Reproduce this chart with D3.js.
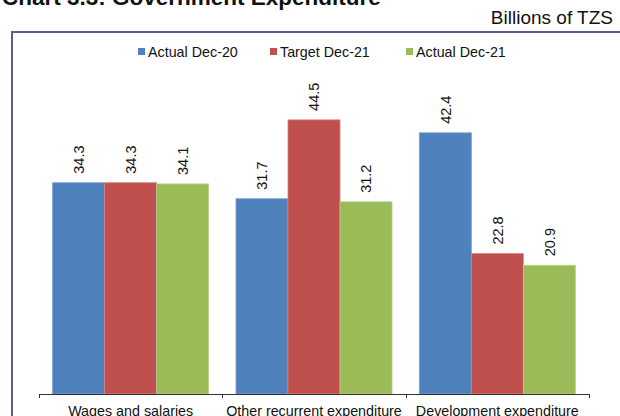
<!DOCTYPE html>
<html>
<head>
<meta charset="utf-8">
<script src="https://cdn.jsdelivr.net/npm/d3@7"></script>
<style>
  html, body { margin: 0; padding: 0; background: #fff; }
  svg { display: block; font-family: "Liberation Sans", Arial, sans-serif; }
</style>
</head>
<body>
<svg id="chart" width="620" height="416"></svg>
<script>
// Government expenditure, billions of TZS
const categories = ["Wages and salaries", "Other recurrent expenditure", "Development expenditure"];
const series = ["Actual Dec-20", "Target Dec-21", "Actual Dec-21"];
const actualDec20 = [34.3, 31.7, 42.4];
const targetDec21 = [34.3, 44.5, 22.8];
const actualDec21 = [34.1, 31.2, 20.9];
const colors = ["#4f81bd", "#c0504d", "#9bbb59"];
const strokes = ["#7ba0d0", "#d98482", "#b6d08a"];

const values = [actualDec20, targetDec21, actualDec21];

const svg = d3.select("#chart");

// Title (sits partly above the visible area)
svg.append("text")
  .attr("x", 2).attr("y", 5)
  .attr("font-size", 22.5).attr("font-weight", "bold").attr("fill", "#111")
  .text("Chart 3.3: Government Expenditure");

svg.append("text")
  .attr("x", 613).attr("y", 24)
  .attr("text-anchor", "end")
  .attr("font-size", 19).attr("fill", "#111")
  .text("Billions of TZS");

// Chart frame
svg.append("rect")
  .attr("x", 12).attr("y", 32)
  .attr("width", 640).attr("height", 420)
  .attr("fill", "none").attr("stroke", "#5c5f8c").attr("stroke-width", 2);

const baseY = 394;
const x0 = d3.scaleBand().domain(categories).range([39, 589]).paddingInner(0).paddingOuter(0);
const x1 = d3.scaleBand().domain(series).range([0, x0.bandwidth()]).paddingInner(0).paddingOuter(0.2625);
const y = d3.scaleLinear().domain([0, 50]).range([baseY, 86]);

// Bars
const groups = svg.append("g").selectAll("g")
  .data(categories)
  .join("g")
  .attr("transform", d => `translate(${x0(d)},0)`);

groups.selectAll("rect")
  .data((c, ci) => series.map((s, si) => ({ s, si, v: values[si][ci] })))
  .join("rect")
  .attr("x", d => x1(d.s))
  .attr("y", d => y(d.v))
  .attr("width", x1.bandwidth())
  .attr("height", d => y(0) - y(d.v))
  .attr("fill", d => colors[d.si])
  .attr("stroke", d => strokes[d.si])
  .attr("stroke-width", 0.8);

// Value labels, rotated
groups.selectAll("text.val")
  .data((c, ci) => series.map((s, si) => ({ s, si, v: values[si][ci] })))
  .join("text")
  .attr("class", "val")
  .attr("transform", d => `translate(${x1(d.s) + x1.bandwidth() / 2},${y(d.v) - 9}) rotate(-90)`)
  .attr("dy", "0.36em")
  .attr("font-size", 14.5)
  .attr("fill", "#111")
  .text(d => d.v.toFixed(1));

// Category axis
const axis = svg.append("g").attr("stroke", "#333").attr("stroke-width", 1);
const x0r = x0.range();
axis.append("line")
  .attr("x1", x0r[0]).attr("x2", x0r[1])
  .attr("y1", baseY + 0.5).attr("y2", baseY + 0.5);
const tickXs = categories.map(c => x0(c)).concat([x0(categories[categories.length - 1]) + x0.bandwidth()]);
axis.selectAll("line.tick")
  .data(tickXs)
  .join("line")
  .attr("class", "tick")
  .attr("x1", d => Math.round(d) + 0.5).attr("x2", d => Math.round(d) + 0.5)
  .attr("y1", baseY).attr("y2", baseY + 4);

svg.append("g").selectAll("text")
  .data(categories)
  .join("text")
  .attr("x", d => x0(d) + x0.bandwidth() / 2)
  .attr("y", 416)
  .attr("text-anchor", "middle")
  .attr("font-size", 14.3)
  .attr("fill", "#111")
  .text(d => d);

// Legend
const legendX = [138, 270, 406];
const legend = svg.append("g").selectAll("g")
  .data(series)
  .join("g")
  .attr("transform", (d, i) => `translate(${legendX[i]},0)`);
legend.append("rect")
  .attr("x", 0).attr("y", 48)
  .attr("width", 7).attr("height", 7)
  .attr("fill", (d, i) => colors[i]);
legend.append("text")
  .attr("x", 10).attr("y", 56.5)
  .attr("font-size", 14.3)
  .attr("fill", "#111")
  .text(d => d);
</script>
</body>
</html>
